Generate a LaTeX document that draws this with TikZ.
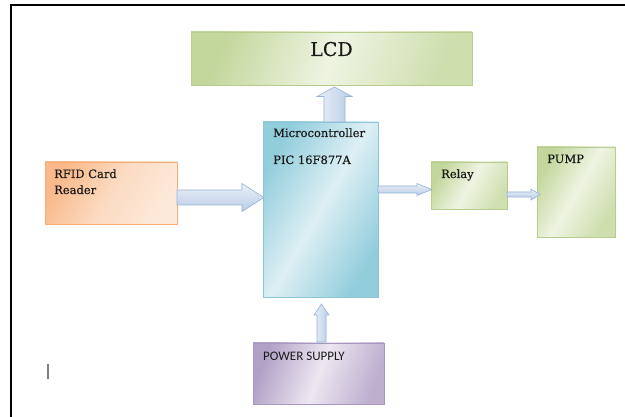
\documentclass[tikz,border=0pt]{standalone}
\usepackage{fontspec}
\setmainfont{DejaVu Serif}
\newfontfamily\lblfont[FakeBold=0.35]{DejaVu Serif}
\newfontfamily\carlitofont{Carlito}
\usetikzlibrary{calc,shadows}

\definecolor{txt}{HTML}{1A1A1A}
\definecolor{gdark}{HTML}{C3D69B}
\definecolor{glight}{HTML}{EEF4E2}
\definecolor{gline}{HTML}{B7CD8E}
\definecolor{bdark}{HTML}{92CDDC}
\definecolor{blight}{HTML}{DDEFF4}
\definecolor{bline}{HTML}{8DC6D6}
\definecolor{odark}{HTML}{F9B98A}
\definecolor{olight}{HTML}{FDE9DA}
\definecolor{oline}{HTML}{F5AE78}
\definecolor{pdark}{HTML}{B2A1C7}
\definecolor{plight}{HTML}{ECE7F1}
\definecolor{pline}{HTML}{A898BF}
\definecolor{arrlight}{HTML}{E9EFF8}
\definecolor{arrdark}{HTML}{B9CDE5}
\definecolor{arrline}{HTML}{95B3D7}

\newcommand\blockarrowH[6]{%
  \path[#1] let \p1=#2, \p2=#3 in
    (\x1,\y1+#4) -- (\x2-#6,\y1+#4) -- (\x2-#6,\y1+#5) -- (\x2,\y1)
    -- (\x2-#6,\y1-#5) -- (\x2-#6,\y1-#4) -- (\x1,\y1-#4) -- cycle;}
\newcommand\blockarrowV[6]{%
  \path[#1] let \p1=#2, \p2=#3 in
    (\x1+#4,\y1) -- (\x1+#4,\y2-#6) -- (\x1+#5,\y2-#6) -- (\x1,\y2)
    -- (\x1-#5,\y2-#6) -- (\x1-#4,\y2-#6) -- (\x1-#4,\y1) -- cycle;}

\begin{document}
\begin{tikzpicture}[x=1pt,y=-1pt,
  box/.style={draw, line width=0.8pt, inner sep=0pt, outer sep=0pt, anchor=north west,
    drop shadow={shadow xshift=1pt, shadow yshift=-1.5pt, opacity=0.3}},
  lbl/.style={anchor=base west, inner sep=0pt, text=txt, font=\lblfont\fontsize{11.5}{13}\selectfont},
  harr/.style={draw=arrline, line width=0.6pt, top color=arrlight, bottom color=arrdark},
  varr/.style={draw=arrline, line width=0.6pt, left color=arrlight, right color=arrdark}]
\useasboundingbox (0,0) rectangle (625,417);
\fill[white] (0,0) rectangle (625,417);

% frame
\draw[line width=2pt, black] (10.7,417) -- (10.7,5) -- (625,5);

% boxes
\node[box, draw=gline, left color=gdark, right color=gdark!75!glight, middle color=glight, shading angle=70,
  minimum width=281pt, minimum height=53pt] (lcd) at (191,32) {};
\node[box, draw=bline, left color=bdark, right color=bdark, middle color=blight, shading angle=60,
  minimum width=115pt, minimum height=175pt] (mc) at (263,122) {};
\node[box, draw=oline, left color=odark, right color=olight, middle color=olight!70!odark, shading angle=60,
  minimum width=132pt, minimum height=62pt] (rfid) at (45,162) {};
\node[box, draw=gline, left color=gdark, right color=gdark!70!glight, middle color=glight, shading angle=60,
  minimum width=76pt, minimum height=47pt] (relay) at (431,162) {};
\node[box, draw=gline, left color=gdark, right color=gdark!75!glight, middle color=glight, shading angle=60,
  minimum width=78pt, minimum height=90pt] (pump) at (537,147) {};
\node[box, draw=pline, left color=pdark, right color=pdark!80!plight, middle color=plight, shading angle=70,
  minimum width=131pt, minimum height=61pt] (psu) at (253,343) {};

% labels
\node[anchor=base, inner sep=0pt, text=txt, font=\lblfont\fontsize{19}{22}\selectfont] (lcdt) at (331.5,56) {LCD};
\node[lbl] (mct1) at (273,137) {Microcontroller};
\node[lbl] (mct2) at (273,164) {PIC 16F877A};
\node[lbl] (rft1) at (54,178) {RFID Card};
\node[lbl] (rft2) at (54,194) {Reader};
\node[lbl] (relt) at (441,178) {Relay};
\node[lbl] (pumpt) at (547,163) {PUMP};
\node[anchor=base west, inner sep=0pt, text=txt, font=\carlitofont\fontsize{13}{15}\selectfont] (psut) at (263,360) {POWER SUPPLY};

% block arrows
\blockarrowH{harr}{($(rfid.east)+(0,4.5)$)}{($(mc.west)+(1,0)$)}{7.5pt}{14pt}{22pt}
\blockarrowH{harr}{($(mc.east)+(0,-20)$)}{($(relay.west)+(1,0)$)}{3.5pt}{6pt}{15pt}
\blockarrowH{harr}{($(relay.east)+(0,9)$)}{($(pump.west)+(3,0)$)}{2.5pt}{5.5pt}{9pt}
\blockarrowV{varr}{($(mc.north)+(14,0)$)}{($(lcd.south)+(0,2)$)}{10.5pt}{17.5pt}{9.5pt}
\blockarrowV{varr}{($(psu.north)+(3,-1)$)}{($(mc.south)+(0,7)$)}{4.5pt}{7.5pt}{11pt}

% text cursor
\draw[line width=1.6pt, black!50] (47.7,364) -- (47.7,379);
\end{tikzpicture}
\end{document}
